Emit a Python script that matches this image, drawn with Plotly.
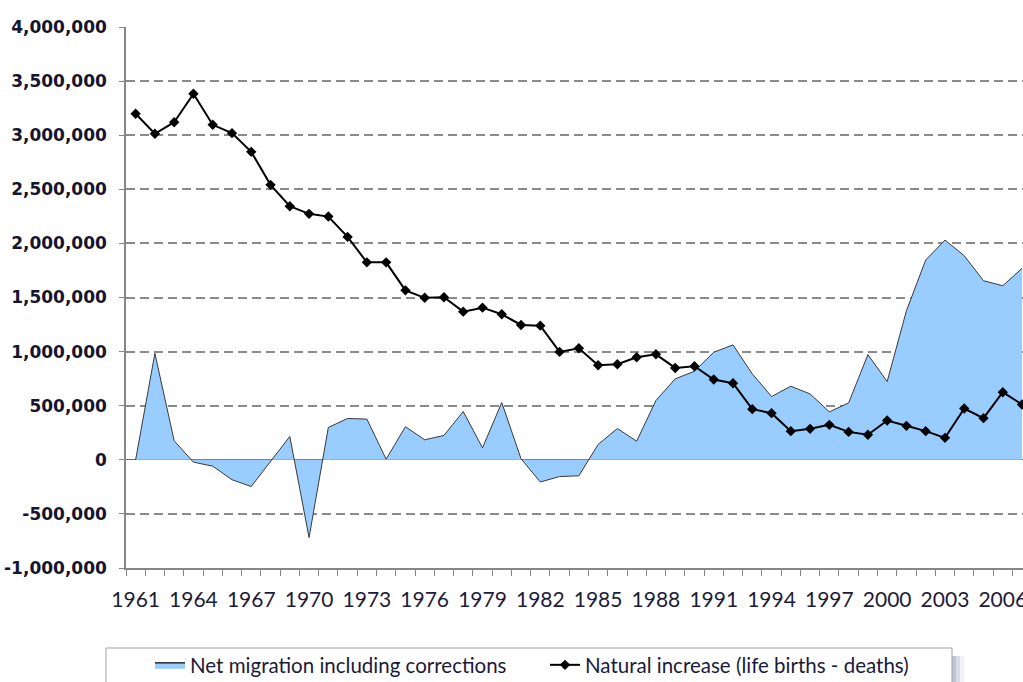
import plotly.graph_objects as go

years = list(range(1961, 2008))

net_migration = [
    0, 984000, 176000, -22000, -59000, -184000, -247000, -15000, 216000, -719000,
    299000, 382000, 376000, 6000, 306000, 185000, 225000, 446000, 111000, 529000,
    10000, -205000, -155000, -148000, 142000, 289000, 172000, 548000, 748000, 818000,
    994000, 1062000, 794000, 585000, 680000, 609000, 443000, 526000, 972000, 723000,
    1378000, 1846000, 2031000, 1886000, 1655000, 1609000, 1769000,
]

natural_increase = [
    3198000, 3013000, 3120000, 3383000, 3096000, 3019000, 2846000, 2541000, 2344000, 2273000,
    2248000, 2060000, 1825000, 1825000, 1566000, 1497000, 1502000, 1369000, 1406000, 1345000,
    1246000, 1240000, 997000, 1031000, 874000, 883000, 948000, 975000, 849000, 865000,
    742000, 708000, 468000, 431000, 265000, 286000, 323000, 258000, 231000, 363000,
    314000, 265000, 203000, 474000, 385000, 625000, 511000,
]

series_names = ["Net migration including corrections", "Natural increase (life births - deaths)"]

x_tick_years = list(range(1961, 2007, 3))
y_tick_values = [-1000000, -500000, 0, 500000, 1000000, 1500000, 2000000, 2500000, 3000000, 3500000, 4000000]
y_tick_labels = ["-1,000,000", "-500,000", "0", "500,000", "1,000,000", "1,500,000",
                 "2,000,000", "2,500,000", "3,000,000", "3,500,000", "4,000,000"]

W, H = 1023, 682
ML, MR, MT, MB = 126, 0, 27, 114
PW = W - ML - MR
PH = H - MT - MB
px_per_year = 19.27


def px(xp):
    return (xp - ML) / PW


def py(yp):
    return (H - MB - yp) / PH


fig = go.Figure()

fig.add_trace(go.Scatter(
    x=years, y=net_migration, name=series_names[0],
    mode="lines", fill="tozeroy", fillcolor="#99CCFF",
    line=dict(color="#3a3a3a", width=1),
    showlegend=False, legendgroup="mig",
))
# legend entry for the area series (box-style icon)
fig.add_trace(go.Scatter(
    x=[None], y=[None], name=series_names[0],
    mode="lines", fill="toself", fillcolor="#99CCFF",
    line=dict(color="#2a2a2a", width=1.5),
    showlegend=True, legendgroup="mig",
))

fig.add_trace(go.Scatter(
    x=years, y=natural_increase, name=series_names[1],
    mode="lines+markers",
    line=dict(color="#000000", width=2),
    marker=dict(symbol="diamond", size=8, color="#000000"),
))

axis_gray = "#868686"

fig.update_xaxes(
    range=[1960.5, 1960.5 + PW / px_per_year],
    tickmode="array", tickvals=x_tick_years, ticktext=[str(y) for y in x_tick_years],
    ticks="", showgrid=False,
    showline=True, linecolor=axis_gray, linewidth=1.5,
    tickfont=dict(family="Lato", size=21, color="#1c1c3a"),
    ticklabelstandoff=12,
    ticklabeloverflow="allow",
    minor=dict(ticks="outside", ticklen=6, tickcolor=axis_gray, tickwidth=1,
               tick0=1960.5, dtick=1, showgrid=False),
    zeroline=False,
    automargin=False,
)

fig.update_yaxes(
    range=[-1000000, 4000000],
    tickmode="array", tickvals=y_tick_values, ticktext=y_tick_labels,
    ticks="outside", ticklen=5, tickcolor=axis_gray,
    showline=True, linecolor=axis_gray, linewidth=1.5,
    showgrid=True, gridcolor="#8a8a8a", gridwidth=1.5, griddash="9px,5px",
    zeroline=True, zerolinecolor="#6a6a6a", zerolinewidth=1,
    tickfont=dict(family="DejaVu Sans", size=17, color="#15152f", weight="bold"),
    ticklabelstandoff=9,
    automargin=False,
)

# legend frame and shadow
shapes = []
for off, op in [(12, 0.12), (8, 0.2), (4, 0.3)]:
    shapes.append(dict(type="rect", xref="paper", yref="paper",
                       x0=px(952), x1=px(952 + off), y0=py(656), y1=py(700),
                       line=dict(width=0), fillcolor="#7f8fb0", opacity=op, layer="below"))
shapes.append(dict(type="rect", xref="paper", yref="paper",
                   x0=px(106), x1=px(952), y0=py(648), y1=py(700),
                   line=dict(color="#a0a0a0", width=1), fillcolor="white", layer="below"))

fig.update_layout(
    width=W, height=H,
    margin=dict(l=ML, r=MR, t=MT, b=MB, pad=0, autoexpand=False),
    paper_bgcolor="white", plot_bgcolor="white",
    showlegend=True,
    legend=dict(
        orientation="h", x=px(150), xanchor="left", y=py(665), yanchor="middle",
        font=dict(family="Lato", size=20.5, color="#1a1a3a"),
        bgcolor="rgba(0,0,0,0)", borderwidth=0,
        entrywidth=350, entrywidthmode="pixels",
        traceorder="normal",
    ),
    shapes=shapes,
    hovermode=False,
)

fig.write_html("out.html", config={"displayModeBar": False},
               post_script="document.body.style.margin='0';")
